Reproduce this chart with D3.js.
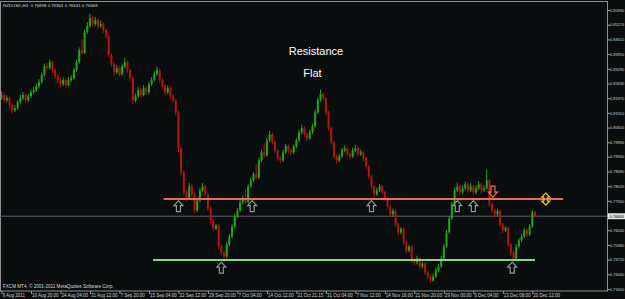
<!DOCTYPE html>
<html>
<head>
<meta charset="utf-8">
<script src="https://cdn.jsdelivr.net/npm/d3@7"></script>
<style>
  html, body { margin: 0; padding: 0; background: #0a0d0d; }
  svg { display: block; }
</style>
</head>
<body>
<div id="chart"></div>
<script>
// NZDUSD H4, 9 Aug - 20 Dec 2011 (open of each bar = previous close)
var firstOpen = 0.8202;
var closes = [
  0.8211, 0.8188, 0.8197, 0.8166, 0.8143, 0.8152, 0.8179, 0.8197, 0.8211, 0.8188,
  0.8206, 0.8224, 0.8233, 0.8251, 0.8269, 0.8301, 0.8341, 0.8332, 0.8359, 0.8323,
  0.8296, 0.8278, 0.8260, 0.8278, 0.8256, 0.8278, 0.8287, 0.8323, 0.8359, 0.8413,
  0.8400, 0.8494, 0.8521, 0.8557, 0.8530, 0.8548, 0.8521, 0.8530, 0.8503, 0.8476,
  0.8391, 0.8350, 0.8314, 0.8332, 0.8305, 0.8341, 0.8359, 0.8323, 0.8287, 0.8188,
  0.8206, 0.8233, 0.8211, 0.8242, 0.8224, 0.8260, 0.8278, 0.8305, 0.8323, 0.8278,
  0.8251, 0.8224, 0.8242, 0.8206, 0.8188, 0.8134, 0.7972, 0.7864, 0.7774, 0.7747,
  0.7801, 0.7765, 0.7693, 0.7738, 0.7783, 0.7801, 0.7765, 0.7702, 0.7648, 0.7612,
  0.7625, 0.7531, 0.7504, 0.7486, 0.7540, 0.7576, 0.7621, 0.7666, 0.7693, 0.7729,
  0.7747, 0.7730, 0.7801, 0.7828, 0.7855, 0.7840, 0.7918, 0.7954, 0.7940, 0.8008,
  0.8035, 0.7999, 0.7963, 0.7927, 0.7918, 0.7954, 0.7981, 0.7963, 0.7954, 0.7981,
  0.8008, 0.8044, 0.8062, 0.8035, 0.8017, 0.8044, 0.8071, 0.8134, 0.8188, 0.8215,
  0.8197, 0.8134, 0.8062, 0.7999, 0.7936, 0.7918, 0.7936, 0.7963, 0.7972, 0.7945,
  0.7936, 0.7963, 0.7972, 0.7945, 0.7954, 0.7927, 0.7891, 0.7846, 0.7801, 0.7765,
  0.7783, 0.7801, 0.7774, 0.7747, 0.7711, 0.7675, 0.7690, 0.7630, 0.7594, 0.7610,
  0.7549, 0.7513, 0.7530, 0.7468, 0.7459, 0.7477, 0.7441, 0.7455, 0.7414, 0.7396,
  0.7378, 0.7396, 0.7423, 0.7441, 0.7477, 0.7531, 0.7594, 0.7657, 0.7720, 0.7783,
  0.7801, 0.7774, 0.7792, 0.7810, 0.7783, 0.7801, 0.7774, 0.7792, 0.7810, 0.7783,
  0.7792, 0.7828, 0.7720, 0.7693, 0.7675, 0.7690, 0.7630, 0.7603, 0.7615, 0.7540,
  0.7504, 0.7477, 0.7531, 0.7558, 0.7576, 0.7603, 0.7585, 0.7621, 0.7684, 0.7667
];
var highs = [
  0.8228, 0.8222, 0.8210, 0.8205, 0.8172, 0.8165, 0.8188, 0.8212, 0.8225, 0.8220,
  0.8216, 0.8236, 0.8248, 0.8262, 0.8282, 0.8312, 0.8352, 0.8356, 0.8372, 0.8366,
  0.8330, 0.8305, 0.8288, 0.8290, 0.8286, 0.8292, 0.8300, 0.8335, 0.8370, 0.8425,
  0.8462, 0.8506, 0.8538, 0.8576, 0.8568, 0.8562, 0.8555, 0.8545, 0.8538, 0.8510,
  0.8482, 0.8398, 0.8358, 0.8345, 0.8340, 0.8352, 0.8378, 0.8366, 0.8330, 0.8294,
  0.8218, 0.8245, 0.8242, 0.8255, 0.8250, 0.8270, 0.8292, 0.8318, 0.8340, 0.8330,
  0.8285, 0.8260, 0.8255, 0.8250, 0.8215, 0.8195, 0.8140, 0.7980, 0.7872, 0.7785,
  0.7815, 0.7810, 0.7772, 0.7750, 0.7795, 0.7815, 0.7808, 0.7772, 0.7710, 0.7656,
  0.7632, 0.7630, 0.7540, 0.7512, 0.7552, 0.7588, 0.7632, 0.7678, 0.7705, 0.7740,
  0.7760, 0.7788, 0.7812, 0.7840, 0.7866, 0.7902, 0.7930, 0.7965, 0.7994, 0.8020,
  0.8050, 0.8042, 0.8006, 0.7970, 0.7935, 0.7965, 0.7992, 0.7988, 0.7972, 0.7990,
  0.8018, 0.8056, 0.8078, 0.8070, 0.8042, 0.8055, 0.8082, 0.8145, 0.8200, 0.8236,
  0.8224, 0.8204, 0.8140, 0.8070, 0.8005, 0.7945, 0.7948, 0.7975, 0.7985, 0.7980,
  0.7955, 0.7974, 0.7988, 0.7980, 0.7966, 0.7960, 0.7934, 0.7898, 0.7852, 0.7808,
  0.7795, 0.7812, 0.7808, 0.7780, 0.7754, 0.7718, 0.7700, 0.7698, 0.7638, 0.7618,
  0.7616, 0.7556, 0.7538, 0.7536, 0.7478, 0.7490, 0.7484, 0.7462, 0.7460, 0.7420,
  0.7405, 0.7408, 0.7435, 0.7452, 0.7488, 0.7542, 0.7605, 0.7668, 0.7732, 0.7795,
  0.7818, 0.7810, 0.7805, 0.7822, 0.7818, 0.7814, 0.7808, 0.7806, 0.7825, 0.7818,
  0.7805, 0.7875, 0.7835, 0.7728, 0.7702, 0.7700, 0.7696, 0.7638, 0.7622, 0.7620,
  0.7548, 0.7512, 0.7542, 0.7570, 0.7588, 0.7615, 0.7610, 0.7632, 0.7695, 0.7690
];
var lows = [
  0.8190, 0.8176, 0.8180, 0.8150, 0.8128, 0.8134, 0.8145, 0.8170, 0.8188, 0.8175,
  0.8180, 0.8198, 0.8215, 0.8225, 0.8242, 0.8262, 0.8295, 0.8320, 0.8325, 0.8310,
  0.8284, 0.8265, 0.8248, 0.8252, 0.8244, 0.8250, 0.8270, 0.8280, 0.8315, 0.8352,
  0.8392, 0.8395, 0.8485, 0.8512, 0.8518, 0.8522, 0.8508, 0.8512, 0.8490, 0.8465,
  0.8380, 0.8338, 0.8300, 0.8305, 0.8295, 0.8298, 0.8332, 0.8312, 0.8275, 0.8170,
  0.8178, 0.8198, 0.8200, 0.8205, 0.8212, 0.8216, 0.8252, 0.8270, 0.8298, 0.8266,
  0.8240, 0.8212, 0.8215, 0.8195, 0.8176, 0.8120, 0.7955, 0.7850, 0.7760, 0.7735,
  0.7740, 0.7752, 0.7680, 0.7686, 0.7730, 0.7775, 0.7755, 0.7690, 0.7635, 0.7600,
  0.7605, 0.7520, 0.7490, 0.7462, 0.7478, 0.7532, 0.7568, 0.7612, 0.7658, 0.7685,
  0.7720, 0.7722, 0.7725, 0.7792, 0.7820, 0.7832, 0.7835, 0.7910, 0.7932, 0.7935,
  0.8000, 0.7990, 0.7952, 0.7915, 0.7905, 0.7910, 0.7946, 0.7952, 0.7942, 0.7946,
  0.7972, 0.8000, 0.8035, 0.8025, 0.8005, 0.8010, 0.8036, 0.8065, 0.8126, 0.8180,
  0.8186, 0.8122, 0.8050, 0.7988, 0.7925, 0.7905, 0.7910, 0.7928, 0.7955, 0.7935,
  0.7925, 0.7928, 0.7955, 0.7936, 0.7938, 0.7915, 0.7880, 0.7835, 0.7790, 0.7752,
  0.7758, 0.7775, 0.7765, 0.7736, 0.7700, 0.7665, 0.7665, 0.7620, 0.7582, 0.7585,
  0.7538, 0.7502, 0.7505, 0.7456, 0.7448, 0.7450, 0.7430, 0.7432, 0.7402, 0.7385,
  0.7368, 0.7372, 0.7390, 0.7415, 0.7435, 0.7470, 0.7525, 0.7588, 0.7650, 0.7712,
  0.7775, 0.7762, 0.7766, 0.7785, 0.7772, 0.7775, 0.7762, 0.7766, 0.7785, 0.7770,
  0.7776, 0.7786, 0.7708, 0.7682, 0.7664, 0.7668, 0.7620, 0.7592, 0.7596, 0.7528,
  0.7490, 0.7462, 0.7470, 0.7522, 0.7550, 0.7568, 0.7575, 0.7578, 0.7615, 0.7664
];

var timeLabels = ["9 Aug 2011", "16 Aug 20:00", "24 Aug 04:00", "31 Aug 12:00", "7 Sep 20:00",
  "15 Sep 04:00", "22 Sep 12:00", "29 Sep 20:00", "7 Oct 04:00", "14 Oct 12:00", "21 Oct 21:15",
  "31 Oct 04:00", "7 Nov 12:00", "14 Nov 16:00", "21 Nov 20:00", "29 Nov 00:00", "6 Dec 04:00",
  "13 Dec 08:00", "20 Dec 12:00"];
var timeLabelBars = [0, 11, 22, 33, 44, 55, 66, 77, 88, 99, 110, 121, 132, 143, 154, 165, 176, 187, 198];
var priceTicks = [0.85930, 0.85270, 0.84610, 0.83950, 0.83290, 0.82630, 0.81970, 0.81310, 0.80650, 0.79990,
  0.79340, 0.78680, 0.78020, 0.77360, 0.76040, 0.75380, 0.74720, 0.74060, 0.73400];
var lastPrice = 0.76668;
var headerText = "NZDUSD,H4  0.76838 0.76901 0.76641 0.76668";
var copyrightText = "FXCM MT4, \u00a9 2001-2011 MetaQuotes Software Corp.";

// drawn objects
var resistance = 0.7744, resistanceBars = [60.5, 209.5];
var support = 0.7470, supportBars = [56.5, 199];
var upArrowsHigh = [66, 93.5, 138, 170, 176];
var upArrowsLow = [82, 190.5];
var downArrowBar = 183.3;
var flatArrowBar = 203;

var width = 625, height = 299;
var plotRight = 607, plotBottom = 291;
var font = "'Liberation Sans', Arial, sans-serif";

var svg = d3.select("#chart").append("svg")
    .attr("width", width)
    .attr("height", height)
    .style("background", "#0a0d0d");

var x = d3.scaleLinear().domain([0, 199]).range([1.5, 535]);
var y = d3.scaleLinear().domain([0.73400, 0.85930]).range([289, 10]);

var bars = closes.map(function(c, i) {
  return {i: i, open: i === 0 ? firstOpen : closes[i - 1], close: c, high: highs[i], low: lows[i]};
});
function barColor(d) { return d.close >= d.open ? "#1fa51f" : "#b31414"; }

// frame
svg.append("rect")
    .attr("x", 0.5).attr("y", 1.5)
    .attr("width", plotRight).attr("height", plotBottom - 1.5)
    .attr("fill", "none")
    .attr("stroke", "#8f8f8f")
    .attr("stroke-width", 1);

// bid line
svg.append("line")
    .attr("x1", 0).attr("x2", plotRight)
    .attr("y1", y(lastPrice)).attr("y2", y(lastPrice))
    .attr("stroke", "#5a6066").attr("stroke-width", 1);

// candles
var candles = svg.append("g").selectAll("g")
  .data(bars)
  .enter()
  .append("g");

candles.append("line")
    .attr("x1", function(d) { return x(d.i); })
    .attr("x2", function(d) { return x(d.i); })
    .attr("y1", function(d) { return y(Math.max(d.high, d.open, d.close)); })
    .attr("y2", function(d) { return y(Math.min(d.low, d.open, d.close)); })
    .attr("stroke", barColor)
    .attr("stroke-width", 1);

candles.append("rect")
    .attr("x", function(d) { return x(d.i) - 1; })
    .attr("width", 2)
    .attr("y", function(d) { return y(Math.max(d.open, d.close)); })
    .attr("height", function(d) { return Math.max(1, Math.abs(y(d.open) - y(d.close))); })
    .attr("fill", barColor);

// horizontal levels
svg.append("line")
    .attr("x1", x(resistanceBars[0])).attr("x2", x(resistanceBars[1]))
    .attr("y1", y(resistance)).attr("y2", y(resistance))
    .attr("stroke", "#ee6a55").attr("stroke-width", 2);
svg.append("line")
    .attr("x1", x(supportBars[0])).attr("x2", x(supportBars[1]))
    .attr("y1", y(support)).attr("y2", y(support))
    .attr("stroke", "#8ecf8e").attr("stroke-width", 2);

// arrows
var upPath = "M0,0 L4.5,5 L2,5 L2,11 L-2,11 L-2,5 L-4.5,5 Z";
var downPath = "M0,0 L4.5,-5 L2,-5 L2,-11 L-2,-11 L-2,-5 L-4.5,-5 Z";
var bothPath = "M0,-6 L4,-2 L2,-2 L2,2 L4,2 L0,6 L-4,2 L-2,2 L-2,-2 L-4,-2 Z";

svg.append("g").selectAll("path")
  .data(upArrowsHigh)
  .enter()
  .append("path")
    .attr("d", upPath)
    .attr("transform", function(d) { return "translate(" + x(d) + "," + (y(resistance) + 1.5) + ")"; })
    .attr("fill", "none").attr("stroke", "#8a9c94").attr("stroke-width", 1.2);

svg.append("g").selectAll("path")
  .data(upArrowsLow)
  .enter()
  .append("path")
    .attr("d", upPath)
    .attr("transform", function(d) { return "translate(" + x(d) + "," + (y(support) + 2) + ")"; })
    .attr("fill", "none").attr("stroke", "#8a9c94").attr("stroke-width", 1.2);

svg.append("path")
    .attr("d", downPath)
    .attr("transform", "translate(" + x(downArrowBar) + "," + (y(resistance) - 2) + ")")
    .attr("fill", "none").attr("stroke", "#f07058").attr("stroke-width", 1.2);

svg.append("path")
    .attr("d", bothPath)
    .attr("transform", "translate(" + x(flatArrowBar) + "," + y(resistance) + ")")
    .attr("fill", "none").attr("stroke", "#e6c21a").attr("stroke-width", 1.2);

// labels on chart
svg.append("text")
    .attr("x", 316).attr("y", 55)
    .attr("text-anchor", "middle")
    .style("font-family", font).style("font-size", "11px")
    .attr("fill", "#ffffff")
    .text("Resistance");
svg.append("text")
    .attr("x", 312.5).attr("y", 77)
    .attr("text-anchor", "middle")
    .style("font-family", font).style("font-size", "11px")
    .attr("fill", "#ffffff")
    .text("Flat");

svg.append("text")
    .attr("x", 3).attr("y", 7)
    .style("font-family", font).style("font-size", "4.4px")
    .attr("fill", "#d8d8d8")
    .attr("xml:space", "preserve")
    .text(headerText);
svg.append("text")
    .attr("x", 3).attr("y", 287.5)
    .style("font-family", font).style("font-size", "4.6px")
    .attr("fill", "#d8d8d8")
    .text(copyrightText);

// price axis
var yAxis = svg.append("g")
    .attr("transform", "translate(" + plotRight + ",0)")
    .call(d3.axisRight(y).tickValues(priceTicks).tickSize(3).tickPadding(0).tickFormat(d3.format(".5f")));
yAxis.select(".domain").remove();
yAxis.selectAll("line").attr("stroke", "#9a9a9a");
yAxis.selectAll("text")
    .attr("fill", "#d0d0d0")
    .style("font-family", font)
    .style("font-size", "3.9px");

// current price box
svg.append("rect")
    .attr("x", plotRight + 1).attr("y", y(lastPrice) - 3)
    .attr("width", 17).attr("height", 6)
    .attr("fill", "#e2e2e2");
svg.append("text")
    .attr("x", plotRight + 2.5).attr("y", y(lastPrice) + 1.4)
    .style("font-family", font).style("font-size", "3.9px")
    .attr("fill", "#000000")
    .text(d3.format(".5f")(lastPrice));

// time axis
var xAxis = svg.append("g")
    .attr("transform", "translate(0," + plotBottom + ")")
    .call(d3.axisBottom(x).tickValues(timeLabelBars).tickSize(3).tickPadding(0)
      .tickFormat(function(d) { return timeLabels[timeLabelBars.indexOf(d)]; }));
xAxis.select(".domain").remove();
xAxis.selectAll("line").attr("stroke", "#9a9a9a");
xAxis.selectAll("text")
    .attr("fill", "#d0d0d0")
    .attr("text-anchor", "start")
    .attr("dx", "0.5")
    .style("font-family", font)
    .style("font-size", "4.5px");
</script>
</body>
</html>
